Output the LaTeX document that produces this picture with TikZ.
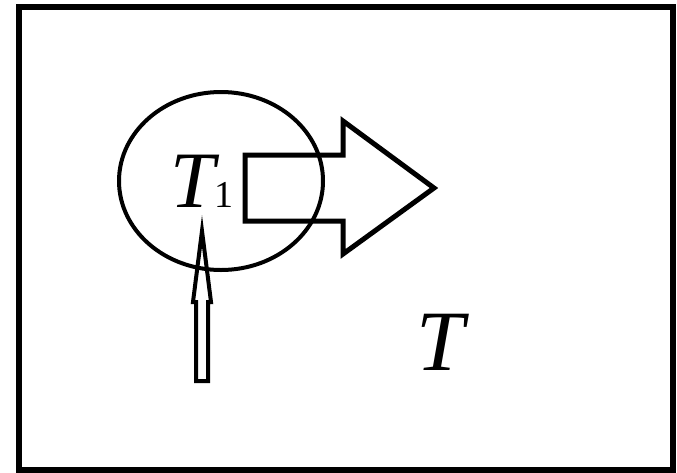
\documentclass[tikz,border=0pt]{standalone}
\usepackage{fontspec}
\setmainfont{Liberation Serif}
\usetikzlibrary{shapes.geometric}

\begin{document}
\begin{tikzpicture}[
    x=1pt, y=-1pt,
    frame/.style={draw, line width=6pt},
    region/.style={draw, ellipse, line width=4pt, minimum width=204pt, minimum height=178pt, inner sep=0pt},
    bigarrow/.style={draw, line width=5pt, line join=miter},
    thinarrow/.style={draw, line width=4pt, line join=miter},
    label/.style={inner sep=0pt, anchor=base}
]
\useasboundingbox (0,0) rectangle (677,472);

% Frame
\draw[frame] (19,7) rectangle (673,470);

% Region and labels
\node[region] (subsys) at (221,181) {};
\node[label] (tone) at (202,207) {{\fontsize{80}{80}\selectfont\itshape T}{\fontsize{38}{38}\selectfont 1}};
\node[label] (tall) at (440,370) {{\fontsize{86}{86}\selectfont\itshape T}};

% Outflow arrow
\draw[bigarrow] (245,155) -- (343,155) -- (343,121) -- (434,188)
    -- (343,254) -- (343,221) -- (245,221) -- cycle;

% Inflow arrow
\draw[thinarrow] (202,231) -- (211,302) -- (208,302) -- (208,381)
    -- (196,381) -- (196,302) -- (193,302) -- cycle;
\end{tikzpicture}
\end{document}
